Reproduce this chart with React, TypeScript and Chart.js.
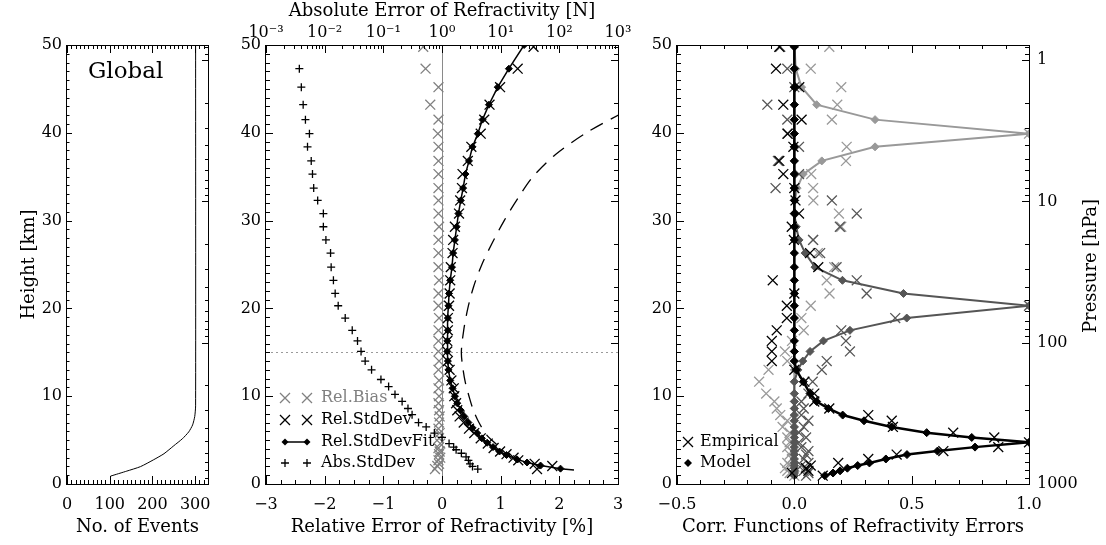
import React, { useEffect, useRef } from "react";
import { Chart, registerables } from "chart.js";

Chart.register(...registerables);

const FONT = "DejaVu Serif";

// ---------------- Panel 1: number of events ----------------
const eventHeights = [0.9, 1.47, 1.98, 2.77, 3.45, 4.36, 5.15, 5.94, 6.73, 7.7, 8.9, 50];
const eventCounts = [102, 140, 172, 203, 227, 250, 270, 285, 294, 299, 301, 301];

// ---------------- Panel 2: relative / absolute errors ----------------
const fitHeights = [1.6, 1.75, 2.1, 2.45, 2.8, 3.3, 3.7, 4.2, 4.7, 5.2, 5.8, 6.4, 7.0, 7.7, 8.4, 9.2, 10.0, 10.9, 11.8, 13.0, 14.0, 15.1, 16.3, 17.5, 18.9, 20.3, 21.7, 23.2, 24.7, 26.3, 27.8, 29.3, 30.8, 32.3, 33.7, 35.3, 36.8, 38.4, 39.9, 41.5, 43.2, 45.2, 47.3, 50.0];
const fitValues = [2.25, 2.02, 1.68, 1.45, 1.28, 1.10, 0.98, 0.87, 0.77, 0.68, 0.60, 0.52, 0.45, 0.38, 0.32, 0.26, 0.22, 0.18, 0.14, 0.11, 0.10, 0.09, 0.09, 0.10, 0.10, 0.11, 0.12, 0.14, 0.17, 0.19, 0.22, 0.25, 0.28, 0.32, 0.36, 0.40, 0.46, 0.52, 0.61, 0.69, 0.80, 0.95, 1.14, 1.40];

const sdHeights = [1.7, 2.05, 2.3, 2.7, 3.0, 3.4, 3.7, 4.1, 4.6, 5.2, 5.8, 6.3, 7.0, 7.7, 8.4, 9.2, 10.0, 10.9, 11.8, 13.0, 14.0, 15.1, 16.3, 17.5, 18.9, 20.3, 21.7, 23.2, 24.7, 26.3, 27.8, 29.3, 30.8, 32.3, 33.7, 35.3, 36.8, 38.4, 39.9, 41.5, 43.2, 45.2, 47.3, 49.8];
const sdValues = [1.62, 1.88, 1.58, 1.30, 1.22, 1.10, 0.99, 0.88, 0.78, 0.66, 0.55, 0.46, 0.37, 0.30, 0.26, 0.24, 0.21, 0.20, 0.16, 0.13, 0.10, 0.09, 0.09, 0.10, 0.10, 0.12, 0.13, 0.14, 0.15, 0.18, 0.19, 0.22, 0.29, 0.31, 0.34, 0.35, 0.44, 0.50, 0.66, 0.72, 0.81, 0.99, 1.29, 1.56];

const biasHeights = [1.7, 2.05, 2.3, 2.7, 3.0, 3.4, 3.7, 4.1, 4.6, 5.2, 5.8, 6.3, 7.0, 7.7, 8.4, 9.2, 10.0, 10.9, 11.8, 13.0, 14.0, 15.1, 16.3, 17.5, 18.9, 20.3, 21.7, 23.2, 24.7, 26.3, 27.8, 29.3, 30.8, 32.3, 33.7, 35.3, 36.8, 38.4, 39.9, 41.5, 43.2, 45.2, 47.3, 49.8];
const biasValues = [-0.12, -0.08, -0.05, -0.06, -0.03, -0.05, -0.04, -0.06, -0.03, -0.05, -0.04, -0.06, -0.05, -0.04, -0.05, -0.06, -0.05, -0.06, -0.05, -0.06, -0.05, -0.06, -0.06, -0.06, -0.05, -0.06, -0.06, -0.05, -0.06, -0.06, -0.06, -0.05, -0.06, -0.06, -0.06, -0.06, -0.06, -0.06, -0.07, -0.06, -0.20, -0.06, -0.28, -0.32];

const absHeights = [1.7, 2.0, 2.3, 2.7, 3.1, 3.5, 3.9, 4.2, 4.6, 5.3, 5.8, 6.5, 7.0, 7.9, 8.6, 9.4, 10.2, 11.1, 11.9, 13.0, 14.0, 15.1, 16.3, 17.5, 18.9, 20.3, 21.7, 23.2, 24.7, 26.3, 27.8, 29.3, 30.8, 32.3, 33.7, 35.3, 36.8, 38.4, 39.9, 41.5, 43.2, 45.2, 47.3];
const absValues = [4.07, 3.31, 3.0, 2.82, 2.57, 2.14, 1.74, 1.58, 1.32, 1.0, 0.741, 0.537, 0.398, 0.309, 0.263, 0.209, 0.158, 0.123, 0.091, 0.063, 0.049, 0.0417, 0.0363, 0.0295, 0.0224, 0.017, 0.0151, 0.0141, 0.0129, 0.0126, 0.0105, 0.0095, 0.0095, 0.0076, 0.0065, 0.0062, 0.0059, 0.0051, 0.0055, 0.0047, 0.0043, 0.004, 0.0037];

const refHeights = [4.5, 5.6, 7.0, 8.5, 10.0, 11.5, 13.0, 15.0, 17.5, 20.0, 22.5, 25.0, 27.5, 30.0, 32.5, 35.0, 37.5, 40.0, 42.0, 43.5];
const refValues = [0.93, 0.76, 0.63, 0.53, 0.46, 0.40, 0.36, 0.33, 0.37, 0.44, 0.54, 0.68, 0.86, 1.06, 1.29, 1.55, 1.93, 2.46, 3.0, 3.45];

// ---------------- Panel 3: correlation functions ----------------
const corrHeights = [0.95, 1.25, 1.5, 1.8, 2.1, 2.4, 2.85, 3.35, 3.75, 4.2, 4.75, 5.3, 5.85, 6.5, 7.2, 7.85, 8.6, 9.4, 10.3, 11.65, 13.0, 14.0, 15.1, 16.3, 17.5, 18.9, 20.3, 21.7, 23.2, 24.7, 26.3, 27.8, 29.3, 30.8, 32.3, 33.7, 35.3, 36.8, 38.4, 39.9, 41.5, 43.2, 45.2, 47.3, 49.8];
const modelLow = [0.13, 0.165, 0.195, 0.226, 0.27, 0.32, 0.39, 0.48, 0.61, 0.77, 1.0, 0.756, 0.564, 0.415, 0.297, 0.206, 0.145, 0.095, 0.067, 0.038, 0.008, 0, 0, 0, 0, 0, 0, 0, 0, 0, 0, 0, 0, 0, 0, 0, 0, 0, 0, 0, 0, 0, 0, 0, 0];
const modelMid = [0, 0, 0, 0, 0, 0, 0, 0, 0, 0, 0, 0, 0, 0, 0, 0, 0, 0, 0, 0, 0.015, 0.036, 0.067, 0.124, 0.237, 0.479, 1.0, 0.465, 0.205, 0.088, 0.046, 0.02, 0.008, 0, 0, 0, 0, 0, 0, 0, 0, 0, 0, 0, 0];
const modelHigh = [0, 0, 0, 0, 0, 0, 0, 0, 0, 0, 0, 0, 0, 0, 0, 0, 0, 0, 0, 0, 0, 0, 0, 0, 0, 0, 0, 0, 0, 0, 0, 0, 0, 0, 0.003, 0.012, 0.038, 0.117, 0.344, 1.0, 0.344, 0.095, 0.031, 0.006, 0.001];
const empLow = [0.121, -0.01, 0.06, 0.05, 0.07, 0.187, 0.315, 0.436, 0.635, 0.869, 1.0, 0.852, 0.677, 0.42, 0.415, 0.315, 0.149, 0.085, 0.085, 0.043, 0.0, -0.096, -0.096, -0.096, -0.075, -0.032, -0.032, 0.0, -0.092, 0.102, 0.067, -0.002, -0.011, 0.02, 0.005, 0.0, -0.047, -0.064, -0.004, -0.028, 0.031, -0.047, 0.021, -0.078, -0.064];
const empMid = [0.05, 0.06, 0.04, 0.05, 0.03, 0.06, 0.04, 0.05, 0.06, 0.03, 0.02, 0.05, 0.02, 0.04, 0.06, 0.03, 0.04, 0.03, 0.06, 0.078, 0.117, 0.138, 0.237, 0.22, 0.2, 0.43, 1.0, 0.308, 0.266, 0.18, 0.11, 0.08, 0.194, 0.266, 0.16, -0.08, 0.02, -0.07, 0.02, -0.03, -0.03, -0.115, 0.0, -0.03, -0.06];
const empHigh = [0.0, -0.02, -0.03, -0.04, -0.02, -0.03, -0.01, -0.02, -0.01, -0.03, -0.02, -0.03, -0.02, -0.05, -0.03, -0.06, -0.075, -0.085, -0.12, -0.15, -0.11, -0.03, -0.04, -0.01, 0.04, 0.03, 0.07, 0.15, 0.138, 0.17, 0.1, 0.08, 0.2, 0.19, 0.081, 0.08, 0.072, 0.22, 0.223, 1.0, 0.16, 0.183, 0.2, 0.07, 0.149];

// ---------------- Tick labels ----------------
const heightTicks = [0, 10, 20, 30, 40, 50];
const eventTicks = [0, 100, 200, 300];
const relTicks = [-3, -2, -1, 0, 1, 2, 3];
const absTicks = [1e-3, 1e-2, 1e-1, 1, 10, 100, 1000];
const corrTicks = [-0.5, 0, 0.5, 1.0];
const pressureTicks = [1, 10, 100, 1000];

// ---------------- helpers ----------------
const GRAY_BIAS = "#808080";
const DARK = "#555555";
const LIGHT = "#999999";

const pts = (xs: number[], ys: number[]) => xs.map((x, i) => ({ x, y: ys[i] }));

function steps(a: number, b: number, s: number) {
  const out: number[] = [];
  const n = Math.round((b - a) / s);
  for (let i = 0; i <= n; i++) out.push(+(a + i * s).toFixed(6));
  return out;
}
function logMinors(lo: number, hi: number) {
  const out: number[] = [];
  for (let e = lo; e <= hi; e++) for (let m = 2; m <= 9; m++) out.push(m * Math.pow(10, e));
  return out;
}
const SUP: Record<string, string> = { "-": "\u207B", "0": "\u2070", "1": "\u00B9", "2": "\u00B2", "3": "\u00B3", "4": "\u2074", "5": "\u2075", "6": "\u2076", "7": "\u2077", "8": "\u2078", "9": "\u2079" };
const minus = (s: string) => s.replace("-", "\u2212");
const setTicks = (vals: number[]) => (scale: any) => {
  scale.ticks = vals.map((v) => ({ value: v }));
};

const pressureMinor = [0.8, 0.9, ...logMinors(0, 2)];
const heightMinor = steps(0, 50, 1);

type Side = "top" | "bottom" | "left" | "right";
function drawTicks(chart: any, id: string, side: Side, vals: number[], len: number) {
  const { ctx, chartArea: a } = chart;
  const sc = chart.scales[id];
  ctx.save();
  ctx.strokeStyle = "#000";
  ctx.lineWidth = 1;
  for (const v of vals) {
    const p = sc.getPixelForValue(v);
    if (!isFinite(p)) continue;
    const horiz = side === "top" || side === "bottom";
    if (horiz && (p < a.left - 0.5 || p > a.right + 0.5)) continue;
    if (!horiz && (p < a.top - 0.5 || p > a.bottom + 0.5)) continue;
    const q = Math.round(p) + 0.5;
    ctx.beginPath();
    if (side === "bottom") { ctx.moveTo(q, a.bottom); ctx.lineTo(q, a.bottom - len); }
    if (side === "top") { ctx.moveTo(q, a.top); ctx.lineTo(q, a.top + len); }
    if (side === "left") { ctx.moveTo(a.left, q); ctx.lineTo(a.left + len, q); }
    if (side === "right") { ctx.moveTo(a.right, q); ctx.lineTo(a.right - len, q); }
    ctx.stroke();
  }
  ctx.restore();
}
function drawFrame(chart: any) {
  const { ctx, chartArea: a } = chart;
  ctx.save();
  ctx.strokeStyle = "#000";
  ctx.lineWidth = 1;
  ctx.strokeRect(Math.round(a.left) - 0.5, Math.round(a.top) + 0.5, Math.round(a.right - a.left) + 1, Math.round(a.bottom - a.top));
  ctx.restore();
}
function markX(ctx: any, x: number, y: number, d: number, color: string) {
  ctx.save(); ctx.strokeStyle = color; ctx.lineWidth = 1.3; ctx.beginPath();
  ctx.moveTo(x - d, y - d); ctx.lineTo(x + d, y + d); ctx.moveTo(x - d, y + d); ctx.lineTo(x + d, y - d);
  ctx.stroke(); ctx.restore();
}
function markPlus(ctx: any, x: number, y: number, d: number) {
  ctx.save(); ctx.strokeStyle = "#000"; ctx.lineWidth = 1.3; ctx.beginPath();
  ctx.moveTo(x - d, y); ctx.lineTo(x + d, y); ctx.moveTo(x, y - d); ctx.lineTo(x, y + d);
  ctx.stroke(); ctx.restore();
}
function markDiamond(ctx: any, x: number, y: number, r: number) {
  ctx.save(); ctx.fillStyle = "#000"; ctx.beginPath();
  ctx.moveTo(x - r, y); ctx.lineTo(x, y - r); ctx.lineTo(x + r, y); ctx.lineTo(x, y + r); ctx.closePath();
  ctx.fill(); ctx.restore();
}

const tickFont = { family: FONT, size: 16 };
const titleFont = { family: FONT, size: 18 };
const noGrid = { display: false, drawTicks: false };
const noBorder = { display: false };

function heightAxis(width: number, showTitle: boolean) {
  return {
    type: "linear", position: "left", min: 0, max: 50,
    grid: noGrid, border: noBorder,
    afterBuildTicks: setTicks(heightTicks),
    ticks: { font: tickFont, color: "#000", padding: 5, callback: (v: any) => String(v) },
    title: { display: showTitle, text: "Height [km]", font: titleFont, color: "#000", padding: { top: 19, bottom: 0 } },
    afterFit: (s: any) => { s.width = width; },
  };
}
function pressureAxis(width: number, labels: boolean) {
  return {
    type: "logarithmic", position: "right", min: 0.78, max: 1000, reverse: true,
    grid: noGrid, border: noBorder,
    afterBuildTicks: setTicks(pressureTicks),
    ticks: { display: labels, font: tickFont, color: "#000", padding: 8, callback: (v: any) => String(v) },
    afterFit: (s: any) => { s.width = width; },
  };
}
const baseOptions = {
  animation: false, responsive: false, maintainAspectRatio: false, events: [],
  layout: { padding: 0 },
  plugins: { legend: { display: false }, tooltip: { enabled: false } },
};

function config1(): any {
  return {
    type: "scatter",
    data: {
      datasets: [
        { data: pts(eventCounts, eventHeights), showLine: true, borderColor: "#000", borderWidth: 1, pointRadius: 0, tension: 0.2, xAxisID: "x", yAxisID: "y" },
      ],
    },
    options: {
      ...baseOptions,
      scales: {
        x: {
          type: "linear", position: "bottom", min: 0, max: 330, grid: noGrid, border: noBorder,
          afterBuildTicks: setTicks(eventTicks),
          ticks: { font: tickFont, color: "#000", padding: 11, maxRotation: 0, autoSkip: false, callback: (v: any) => String(v) },
          title: { display: true, text: "No. of Events", font: titleFont, color: "#000", padding: { top: 0, bottom: 7 } },
          afterFit: (s: any) => { s.height = 61; },
        },
        xt: {
          type: "linear", position: "top", min: 0, max: 330, grid: noGrid, border: noBorder,
          ticks: { display: false }, afterFit: (s: any) => { s.height = 45; },
        },
        y: heightAxis(67, true),
        yp: pressureAxis(17, false),
      },
    },
    plugins: [
      {
        id: "deco1",
        afterDraw(chart: any) {
          drawFrame(chart);
          const minor = steps(0, 330, 10);
          drawTicks(chart, "x", "bottom", minor, 4);
          drawTicks(chart, "x", "bottom", eventTicks, 8);
          drawTicks(chart, "x", "top", minor, 4);
          drawTicks(chart, "x", "top", eventTicks, 8);
          drawTicks(chart, "y", "left", heightMinor, 2.5);
          drawTicks(chart, "y", "left", heightTicks, 5);
          drawTicks(chart, "yp", "right", pressureMinor, 3);
          drawTicks(chart, "yp", "right", pressureTicks, 6);
          const ctx = chart.ctx;
          ctx.save();
          ctx.fillStyle = "#000";
          ctx.font = `23px "${FONT}"`;
          ctx.textBaseline = "middle";
          ctx.fillText("Global", 88, 72);
          ctx.restore();
        },
      },
    ],
  };
}

function config2(): any {
  return {
    type: "scatter",
    data: {
      datasets: [
        { label: "Rel.StdDevFit", data: pts(fitValues, fitHeights), showLine: true, borderColor: "#000", backgroundColor: "#000", borderWidth: 1.5, pointStyle: "rectRot", pointRadius: fitHeights.map((_, i) => (i === 0 ? 0 : 3.5)), pointBorderWidth: 1, xAxisID: "x", yAxisID: "y" },
        { label: "Rel.StdDev", data: pts(sdValues, sdHeights), borderColor: "#000", backgroundColor: "#000", pointStyle: "crossRot", pointRadius: 7, pointBorderWidth: 1.3, xAxisID: "x", yAxisID: "y" },
        { label: "Abs.StdDev", data: pts(absValues, absHeights), borderColor: "#000", backgroundColor: "#000", pointStyle: "cross", pointRadius: 4, pointBorderWidth: 1.3, xAxisID: "x2", yAxisID: "y" },
        { label: "Rel.Bias", data: pts(biasValues, biasHeights), borderColor: GRAY_BIAS, backgroundColor: GRAY_BIAS, pointStyle: "crossRot", pointRadius: 7, pointBorderWidth: 1.3, xAxisID: "x", yAxisID: "y" },
        { label: "Reference", data: pts(refValues, refHeights), showLine: true, borderColor: "#000", borderWidth: 1.3, borderDash: [14, 9], pointRadius: 0, tension: 0.3, xAxisID: "x", yAxisID: "y" },
      ],
    },
    options: {
      ...baseOptions,
      scales: {
        x: {
          type: "linear", position: "bottom", min: -3, max: 3, grid: noGrid, border: noBorder,
          afterBuildTicks: setTicks(relTicks),
          ticks: { font: tickFont, color: "#000", padding: 11, maxRotation: 0, autoSkip: false, callback: (v: any) => minus(String(v)) },
          title: { display: true, text: "Relative Error of Refractivity [%]", font: titleFont, color: "#000", padding: { top: 0, bottom: 7 } },
          afterFit: (s: any) => { s.height = 61; },
        },
        x2: {
          type: "logarithmic", position: "top", min: 1e-3, max: 1e3, grid: noGrid, border: noBorder,
          afterBuildTicks: setTicks(absTicks),
          ticks: {
            font: tickFont, color: "#000", padding: 3, maxRotation: 0, autoSkip: false,
            callback: (v: any) => "10" + String(Math.round(Math.log10(v))).split("").map((c) => SUP[c]).join(""),
          },
          title: { display: true, text: "Absolute Error of Refractivity [N]", font: titleFont, color: "#000", padding: { top: 1, bottom: 0 } },
          afterFit: (s: any) => { s.height = 45; },
        },
        y: heightAxis(41, false),
        yp: pressureAxis(27, false),
      },
    },
    plugins: [
      {
        id: "deco2",
        beforeDatasetsDraw(chart: any) {
          const { ctx, chartArea: a, scales } = chart;
          ctx.save();
          const x0 = Math.round(scales.x.getPixelForValue(0)) + 0.5;
          ctx.strokeStyle = "#8a8a8a";
          ctx.lineWidth = 1;
          ctx.beginPath(); ctx.moveTo(x0, a.top); ctx.lineTo(x0, a.bottom); ctx.stroke();
          const y15 = Math.round(scales.y.getPixelForValue(15)) + 0.5;
          ctx.setLineDash([2, 3]);
          ctx.strokeStyle = "#9a9a9a";
          ctx.beginPath(); ctx.moveTo(a.left, y15); ctx.lineTo(a.right, y15); ctx.stroke();
          ctx.restore();
        },
        afterDraw(chart: any) {
          drawFrame(chart);
          drawTicks(chart, "x", "bottom", steps(-3, 3, 0.25), 4);
          drawTicks(chart, "x", "bottom", relTicks, 8);
          drawTicks(chart, "x2", "top", logMinors(-3, 2), 4);
          drawTicks(chart, "x2", "top", absTicks, 8);
          drawTicks(chart, "y", "left", heightMinor, 4);
          drawTicks(chart, "y", "left", heightTicks, 7);
          drawTicks(chart, "yp", "right", pressureMinor, 4);
          drawTicks(chart, "yp", "right", pressureTicks, 7);
          const { ctx, chartArea: a } = chart;
          const mx1 = a.left + 19, mx2 = a.left + 41, tx = a.left + 55;
          const rows = [398, 420, 442, 463];
          markX(ctx, mx1, rows[0], 5, GRAY_BIAS); markX(ctx, mx2, rows[0], 5, GRAY_BIAS);
          markX(ctx, mx1, rows[1], 5, "#000"); markX(ctx, mx2, rows[1], 5, "#000");
          ctx.save(); ctx.strokeStyle = "#000"; ctx.lineWidth = 1.5; ctx.beginPath();
          ctx.moveTo(mx1, rows[2]); ctx.lineTo(mx2, rows[2]); ctx.stroke(); ctx.restore();
          markDiamond(ctx, mx1, rows[2], 3.5); markDiamond(ctx, mx2, rows[2], 3.5);
          markPlus(ctx, mx1, rows[3], 4); markPlus(ctx, mx2, rows[3], 4);
          ctx.save();
          ctx.font = `16px "${FONT}"`;
          ctx.textBaseline = "middle";
          ctx.fillStyle = GRAY_BIAS; ctx.fillText("Rel.Bias", tx, rows[0]);
          ctx.fillStyle = "#000";
          ctx.fillText("Rel.StdDev", tx, rows[1]);
          ctx.fillText("Rel.StdDevFit", tx, rows[2]);
          ctx.fillText("Abs.StdDev", tx, rows[3]);
          ctx.restore();
        },
      },
    ],
  };
}

function config3(): any {
  const crossDs = (vals: number[], color: string) => ({
    data: pts(vals, corrHeights), borderColor: color, backgroundColor: color, pointStyle: "crossRot", pointRadius: 7, pointBorderWidth: 1.3, xAxisID: "x", yAxisID: "y",
  });
  const modelDs = (vals: number[], color: string, w: number) => ({
    data: pts(vals, corrHeights), showLine: true, borderColor: color, backgroundColor: color, borderWidth: w, pointStyle: "rectRot", pointRadius: 4, pointBorderWidth: 1, xAxisID: "x", yAxisID: "y",
  });
  return {
    type: "scatter",
    data: {
      datasets: [
        { label: "Empirical 4.75 km", ...crossDs(empLow, "#000") },
        { label: "Model 4.75 km", ...modelDs(modelLow, "#000", 2.5) },
        { label: "Empirical 20.3 km", ...crossDs(empMid, DARK) },
        { label: "Model 20.3 km", ...modelDs(modelMid, DARK, 2) },
        { label: "Empirical 39.9 km", ...crossDs(empHigh, LIGHT) },
        { label: "Model 39.9 km", ...modelDs(modelHigh, LIGHT, 2) },
      ],
    },
    options: {
      ...baseOptions,
      scales: {
        x: {
          type: "linear", position: "bottom", min: -0.5, max: 1.0, grid: noGrid, border: noBorder,
          afterBuildTicks: setTicks(corrTicks),
          ticks: { font: tickFont, color: "#000", padding: 11, maxRotation: 0, autoSkip: false, callback: (v: any) => minus(Number(v).toFixed(1)) },
          title: { display: true, text: "Corr. Functions of Refractivity Errors", font: titleFont, color: "#000", padding: { top: 0, bottom: 7 } },
          afterFit: (s: any) => { s.height = 61; },
        },
        xt: {
          type: "linear", position: "top", min: -0.5, max: 1.0, grid: noGrid, border: noBorder,
          ticks: { display: false }, afterFit: (s: any) => { s.height = 45; },
        },
        y: heightAxis(32, false),
        yp: pressureAxis(77, true),
      },
    },
    plugins: [
      {
        id: "deco3",
        afterDraw(chart: any) {
          drawFrame(chart);
          const minor = steps(-0.5, 1.0, 0.1);
          drawTicks(chart, "x", "bottom", minor, 4);
          drawTicks(chart, "x", "bottom", corrTicks, 8);
          drawTicks(chart, "x", "top", minor, 4);
          drawTicks(chart, "x", "top", corrTicks, 8);
          drawTicks(chart, "y", "left", heightMinor, 4);
          drawTicks(chart, "y", "left", heightTicks, 7);
          drawTicks(chart, "yp", "right", pressureMinor, 4);
          drawTicks(chart, "yp", "right", pressureTicks, 7);
          const { ctx, chartArea: a } = chart;
          markX(ctx, a.left + 11, 442, 5, "#000");
          markDiamond(ctx, a.left + 11, 463, 4);
          ctx.save();
          ctx.font = `16px "${FONT}"`;
          ctx.textBaseline = "middle";
          ctx.fillStyle = "#000";
          ctx.fillText("Empirical", a.left + 23, 442);
          ctx.fillText("Model", a.left + 23, 463);
          ctx.translate(446, 266);
          ctx.rotate(-Math.PI / 2);
          ctx.textAlign = "center";
          ctx.font = `18px "${FONT}"`;
          ctx.fillText("Pressure [hPa]", 0, 0);
          ctx.restore();
        },
      },
    ],
  };
}

export default function App() {
  const r1 = useRef<HTMLCanvasElement>(null);
  const r2 = useRef<HTMLCanvasElement>(null);
  const r3 = useRef<HTMLCanvasElement>(null);
  useEffect(() => {
    Chart.defaults.font.family = FONT;
    Chart.defaults.color = "#000";
    const charts = [
      new Chart(r1.current as HTMLCanvasElement, config1()),
      new Chart(r2.current as HTMLCanvasElement, config2()),
      new Chart(r3.current as HTMLCanvasElement, config3()),
    ];
    return () => charts.forEach((c) => c.destroy());
  }, []);
  const cs = (left: number, width: number): React.CSSProperties => ({ position: "absolute", left, top: 0, width, height: 545 });
  return (
    <div style={{ position: "absolute", left: 0, top: 0, width: 1106, height: 545, background: "#fff", overflow: "hidden" }}>
      <canvas ref={r1} width={225} height={545} style={cs(0, 225)} />
      <canvas ref={r2} width={420} height={545} style={cs(225, 420)} />
      <canvas ref={r3} width={461} height={545} style={cs(645, 461)} />
    </div>
  );
}
